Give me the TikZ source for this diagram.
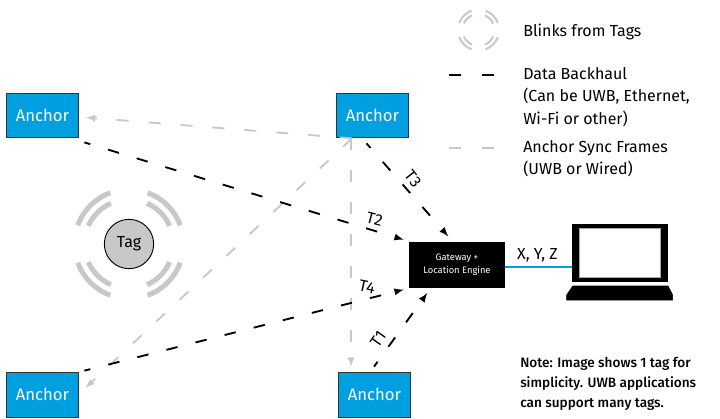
\documentclass[tikz,border=0pt]{standalone}
\usepackage{fontspec}
\setmainfont{Fira Sans}
\newfontfamily\notefont{Fira Sans Medium}
\usetikzlibrary{positioning}
\definecolor{anchorblue}{HTML}{009FDF}
\definecolor{blinkgray}{HTML}{C8C8CA}
\tikzstyle{anchorbox}=[draw=black!80,fill=anchorblue,rectangle,line width=0.8pt,minimum width=54.5pt,minimum height=33.5pt,inner sep=0pt,text=white,font=\fontsize{12.5}{14}\selectfont]
\tikzstyle{gatewaybox}=[fill=black,rectangle,minimum width=72pt,minimum height=34.5pt,inner sep=0pt,text=white,align=center,font=\fontsize{7}{10}\selectfont]
\tikzstyle{backhaul}=[black,line width=1.4pt,dash pattern=on 8.6pt off 13.9pt]
\tikzstyle{syncline}=[blinkgray,line width=1.4pt,dash pattern=on 9pt off 15pt]
\tikzstyle{legendtext}=[anchor=north west,inner sep=0pt,align=left,font=\fontsize{12}{16.9}\selectfont]
\tikzstyle{noteline}=[anchor=north west,inner sep=0pt,align=left,font=\fontsize{10.2}{15}\notefont]
\tikzstyle{timelabel}=[inner sep=0pt,font=\fontsize{12}{13}\selectfont]
\newcommand{\blinkarcs}[4]{%
  \foreach \ang in {0,90,180,270} {
    \draw[blinkgray,line width=#4] ([shift={(\ang+20:#2)}]#1) arc[start angle=\ang+20,end angle=\ang+70,radius=#2];
    \draw[blinkgray,line width=#4] ([shift={(\ang+24:#3)}]#1) arc[start angle=\ang+24,end angle=\ang+66,radius=#3];
  }}

\begin{document}
\begin{tikzpicture}[x=0.75pt,y=-0.75pt,>=latex]
  \useasboundingbox (0,0) rectangle (720,418);
  % anchors
  \node[anchorbox] (anchortl) at (42.5,115.5) {Anchor};
  \node[anchorbox, right of=anchortl, node distance=247.5pt] (anchortm) {Anchor};
  \node[anchorbox, below of=anchortl, node distance=209.5pt] (anchorbl) {Anchor};
  \node[anchorbox, right of=anchorbl, node distance=249pt] (anchorbm) {Anchor};
  \node[gatewaybox] (gateway) at (457,265) {Gateway +\\Location Engine};
  \node[circle,draw=black,fill=blinkgray,line width=0.7pt,minimum size=37pt,inner sep=0pt,font=\fontsize{12}{14}\selectfont] (tag) at (129,244) {Tag};
  \blinkarcs{tag.center}{40.9pt}{33.4pt}{3.8pt}
  % sync frames
  \draw[syncline,->] ([shift={(-20.5,0)}]anchortm.south) -- ([shift={(6.5,2)}]anchortl.east);
  \draw[syncline,->] ([shift={(-20.5,0)}]anchortm.south) -- ([shift={(6,16)}]anchorbl.north east);
  \draw[syncline,->] ([shift={(-21.5,0)}]anchortm.south) -- ([shift={(-23.5,-5.3)}]anchorbm.north);
  % backhaul
  \draw[backhaul,dash phase=4pt,->] ([shift={(5,4)}]anchortl.south east) -- ([shift={(-5,-2)}]gateway.north west);
  \draw[backhaul,dash phase=4pt,->] ([shift={(-6,5)}]anchortm.south) -- ([shift={(-8.7,-5.3)}]gateway.north);
  \draw[backhaul,dash phase=4pt,->] ([shift={(5,-1.3)}]anchorbl.north east) -- ([shift={(-5,1.3)}]gateway.south west);
  \draw[backhaul,dash phase=4pt,->] ([shift={(-0.5,-5.3)}]anchorbm.north) -- ([shift={(-29.7,4.7)}]gateway.south);
  \node[timelabel,rotate=-52] (tthree) at (413,179) {T3};
  \node[timelabel,rotate=-15] (ttwo) at (374.5,219) {T2};
  \node[timelabel,rotate=-12] (tfour) at (367,287) {T4};
  \node[timelabel,rotate=55] (tone) at (378,339) {T1};
  % laptop
  \node[fill=black,minimum width=72pt,minimum height=43.5pt,inner sep=0pt] (screen) at (620,253) {};
  \node[draw=black!35,fill=white,line width=0.6pt,minimum width=61pt,minimum height=37pt,inner sep=0pt] (display) at (620,253) {};
  \filldraw[black] (572.7,286) -- (668,286) -- (672.7,295) -- (672.7,300) -- (566.7,300) -- (566.7,295) -- cycle;
  \draw[anchorblue,line width=1.5pt] (gateway.east |- 0,266.5) -- (screen.west |- 0,266.5);
  \node[inner sep=0pt,font=\fontsize{12}{13}\selectfont] (xyz) at (537.5,255) {X, Y, Z};
  % legend
  \coordinate (legendcen) at (478.5,30);
  \blinkarcs{legendcen}{15.4pt}{12pt}{1.5pt}
  \node[legendtext] (legblink) at (523,24) {Blinks from Tags};
  \node[legendtext] (legdata) at (523,67) {Data Backhaul\\(Can be UWB, Ethernet,\\Wi-Fi or other)};
  \node[legendtext] (legsync) at (523,140) {Anchor Sync Frames\\(UWB or Wired)};
  \coordinate (dataa) at (449,75);
  \coordinate (datab) at (494,75);
  \coordinate (synca) at (449,148);
  \coordinate (syncb) at (494,148);
  \draw[black,line width=1.4pt,dash pattern=on 9pt off 15.75pt] (dataa) -- (datab);
  \draw[blinkgray,line width=1.4pt,dash pattern=on 9pt off 15.75pt] (synca) -- (syncb);
  \node[noteline] (note) at (520,357) {Note: Image shows 1 tag for\\simplicity. UWB applications\\can support many tags.};
\end{tikzpicture}
\end{document}
